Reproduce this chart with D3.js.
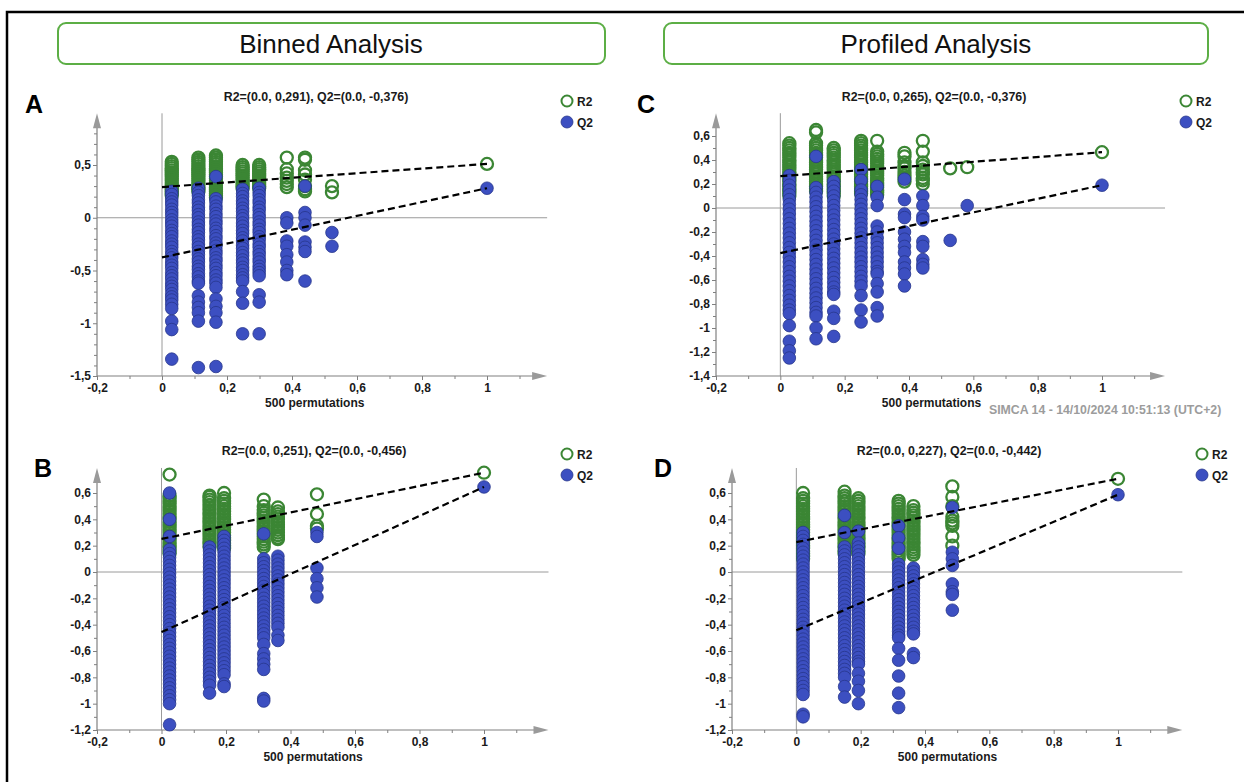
<!DOCTYPE html>
<html>
<head>
<meta charset="utf-8">
<script src="https://cdn.jsdelivr.net/npm/d3@7/dist/d3.min.js"></script>
<style>
  body { margin: 0; background: #fff; }
  svg text { font-family: "Liberation Sans", Arial, sans-serif; }
</style>
</head>
<body>
<svg id="chart" width="1244" height="782"></svg>
<script>
// ---- data ----
// x = correlation of permuted y with original y, one entry per column

// A: binned analysis, top
var panelA_x = [0.030, 0.112, 0.166, 0.248, 0.299, 0.384, 0.440, 0.523];
var panelA_r2 = [
  [0.53,0.51,0.49,0.47,0.45,0.43,0.41,0.39,0.37,0.35,0.33,0.31,0.29,0.27,0.25,0.23,0.21],
  [0.57,0.55,0.53,0.51,0.49,0.47,0.45,0.43,0.41,0.39,0.37,0.35,0.33,0.31,0.29,0.27,0.25],
  [0.59,0.57,0.55,0.53,0.51,0.49,0.47,0.45,0.43,0.41,0.39,0.37,0.35,0.33,0.31,0.29,0.27,0.25,0.23,0.21,0.19],
  [0.50,0.48,0.46,0.44,0.42,0.40,0.38,0.36,0.34,0.32,0.30,0.28],
  [0.50,0.48,0.46,0.44,0.42,0.40,0.38,0.36,0.34,0.32,0.30,0.28],
  [0.57,0.46,0.42,0.38,0.35,0.32,0.29],
  [0.57,0.55,0.45,0.41,0.36,0.30,0.27,0.25],
  [0.30,0.24]
];
var panelA_q2 = [
  [0.25,0.22,0.18,0.15,0.12,0.08,0.05,0.02,-0.02,-0.05,-0.08,-0.12,-0.15,-0.18,-0.22,-0.25,-0.28,-0.32,-0.35,-0.38,-0.42,-0.45,-0.48,-0.52,-0.55,-0.58,-0.62,-0.65,-0.68,-0.72,-0.75,-0.78,-0.82,-0.86,-0.98,-1.06,-1.34],
  [0.28,0.24,0.21,0.17,0.14,0.10,0.07,0.03,0.00,-0.04,-0.07,-0.11,-0.14,-0.18,-0.21,-0.25,-0.28,-0.32,-0.35,-0.39,-0.42,-0.46,-0.49,-0.53,-0.56,-0.60,-0.62,-0.74,-0.80,-0.85,-0.90,-0.98,-1.42],
  [0.39,0.18,0.15,0.11,0.08,0.04,0.01,-0.03,-0.06,-0.10,-0.13,-0.17,-0.20,-0.24,-0.27,-0.31,-0.34,-0.38,-0.41,-0.45,-0.48,-0.52,-0.55,-0.59,-0.62,-0.66,-0.77,-0.84,-0.90,-0.99,-1.41],
  [0.27,0.23,0.20,0.16,0.13,0.09,0.06,0.02,-0.01,-0.05,-0.08,-0.12,-0.15,-0.19,-0.22,-0.26,-0.29,-0.33,-0.36,-0.40,-0.43,-0.47,-0.50,-0.54,-0.57,-0.60,-0.70,-0.81,-1.10],
  [0.28,0.24,0.21,0.17,0.14,0.10,0.07,0.03,0.00,-0.04,-0.07,-0.11,-0.14,-0.18,-0.21,-0.25,-0.28,-0.32,-0.35,-0.39,-0.42,-0.46,-0.49,-0.52,-0.55,-0.73,-0.80,-1.10],
  [0.00,-0.05,-0.22,-0.27,-0.35,-0.42,-0.50,-0.54],
  [0.30,0.05,0.00,-0.07,-0.23,-0.28,-0.32,-0.60],
  [-0.14,-0.27]
];
var panelA_orig = [0.51, 0.28];        // R2, Q2 of the real model (x = 1)
var panelA_icpt = [0.291, -0.376];     // intercepts

// C: profiled analysis, top
var panelC_x = [0.028, 0.111, 0.166, 0.251, 0.301, 0.386, 0.443, 0.528, 0.581];
var panelC_r2 = [
  [0.54,0.52,0.50,0.48,0.46,0.44,0.42,0.40,0.38,0.36,0.34,0.32,0.30,0.28,0.26,0.24,0.22,0.20,0.18,0.16,0.14,0.12,0.10],
  [0.65,0.63,0.54,0.52,0.50,0.48,0.46,0.44,0.42,0.40,0.38,0.36,0.34,0.32,0.30,0.28,0.26,0.24,0.22,0.20,0.18,0.16,0.14],
  [0.50,0.48,0.46,0.44,0.42,0.40,0.38,0.36,0.34,0.32,0.30,0.28,0.26,0.24,0.22,0.20,0.18,0.16,0.14,0.12,0.10],
  [0.56,0.54,0.52,0.50,0.48,0.46,0.44,0.42,0.40,0.38,0.36,0.34,0.32,0.30,0.28,0.26,0.24,0.22,0.20,0.18,0.16,0.14,0.12],
  [0.56,0.47,0.45,0.43,0.41,0.39,0.37,0.35,0.33,0.31,0.29,0.27,0.25,0.23,0.21,0.19,0.17,0.15,0.13,0.11],
  [0.46,0.43,0.38,0.35,0.33,0.30,0.27,0.25,0.22],
  [0.56,0.47,0.38,0.35,0.32,0.30,0.28,0.25,0.23,0.20],
  [0.33],
  [0.34]
];
var panelC_q2 = [
  [0.27,0.23,0.19,0.15,0.11,0.07,0.03,-0.01,-0.05,-0.09,-0.13,-0.17,-0.21,-0.25,-0.29,-0.33,-0.37,-0.41,-0.45,-0.49,-0.53,-0.57,-0.61,-0.65,-0.69,-0.73,-0.77,-0.81,-0.85,-0.88,-0.98,-1.11,-1.19,-1.25],
  [0.43,0.17,0.13,0.09,0.05,0.01,-0.03,-0.07,-0.11,-0.15,-0.19,-0.23,-0.27,-0.31,-0.35,-0.39,-0.43,-0.47,-0.51,-0.55,-0.59,-0.63,-0.67,-0.71,-0.75,-0.79,-0.83,-0.87,-0.90,-1.00,-1.09],
  [0.22,0.18,0.14,0.10,0.06,0.02,-0.02,-0.06,-0.10,-0.14,-0.18,-0.22,-0.26,-0.30,-0.34,-0.38,-0.42,-0.46,-0.50,-0.54,-0.58,-0.62,-0.66,-0.70,-0.72,-0.86,-0.92,-1.07],
  [0.32,0.23,0.15,0.11,0.07,0.03,-0.01,-0.05,-0.09,-0.13,-0.17,-0.21,-0.25,-0.29,-0.33,-0.37,-0.41,-0.45,-0.49,-0.53,-0.57,-0.61,-0.65,-0.73,-0.85,-0.95],
  [0.18,0.09,0.02,-0.15,-0.20,-0.25,-0.29,-0.33,-0.37,-0.41,-0.45,-0.49,-0.53,-0.55,-0.63,-0.70,-0.83,-0.90],
  [0.24,0.07,-0.05,-0.08,-0.20,-0.26,-0.32,-0.37,-0.45,-0.50,-0.55,-0.65],
  [0.10,0.02,-0.07,-0.10,-0.28,-0.32,-0.43,-0.47,-0.50],
  [-0.27],
  [0.02]
];
var panelC_orig = [0.465, 0.19];
var panelC_icpt = [0.265, -0.376];

// B: binned analysis, bottom
var panelB_x = [0.025, 0.149, 0.194, 0.317, 0.361, 0.482];
var panelB_r2 = [
  [0.74,0.58,0.56,0.54,0.52,0.50,0.48,0.46,0.44,0.42,0.40,0.38,0.36,0.34,0.32,0.30,0.28,0.26,0.24,0.22,0.20,0.18,0.16,0.14],
  [0.58,0.57,0.55,0.53,0.51,0.49,0.47,0.45,0.43,0.41,0.39,0.37,0.35,0.33,0.31,0.29,0.27,0.25,0.23,0.21,0.19],
  [0.60,0.56,0.54,0.52,0.50,0.48,0.46,0.44,0.42,0.40,0.38,0.36,0.34,0.32,0.30,0.28,0.26,0.24,0.22,0.20,0.18],
  [0.55,0.50,0.47,0.45,0.43,0.41,0.39,0.37,0.35,0.33,0.31,0.29,0.27,0.25,0.23,0.21,0.19],
  [0.49,0.46,0.44,0.42,0.40,0.38,0.36,0.34,0.32,0.30,0.28,0.26,0.25],
  [0.59,0.44,0.35,0.33]
];
var panelB_q2 = [
  [0.60,0.40,0.27,0.17,0.14,0.11,0.08,0.05,0.02,-0.01,-0.04,-0.07,-0.10,-0.13,-0.16,-0.19,-0.22,-0.25,-0.28,-0.31,-0.34,-0.37,-0.40,-0.43,-0.46,-0.49,-0.52,-0.55,-0.58,-0.61,-0.64,-0.67,-0.70,-0.73,-0.76,-0.79,-0.82,-0.85,-0.88,-0.91,-0.94,-0.97,-1.00,-1.16],
  [0.19,0.16,0.13,0.10,0.07,0.04,0.01,-0.02,-0.05,-0.08,-0.11,-0.14,-0.17,-0.20,-0.23,-0.26,-0.29,-0.32,-0.35,-0.38,-0.41,-0.44,-0.47,-0.50,-0.53,-0.56,-0.59,-0.62,-0.65,-0.68,-0.71,-0.74,-0.77,-0.80,-0.83,-0.86,-0.92],
  [0.27,0.24,0.21,0.18,0.15,0.12,0.09,0.06,0.03,0.00,-0.03,-0.06,-0.09,-0.12,-0.15,-0.18,-0.21,-0.24,-0.27,-0.30,-0.33,-0.36,-0.39,-0.42,-0.45,-0.48,-0.51,-0.54,-0.57,-0.60,-0.63,-0.66,-0.69,-0.72,-0.75,-0.78,-0.85,-0.87],
  [0.29,0.10,0.07,0.04,0.01,-0.02,-0.05,-0.08,-0.11,-0.14,-0.17,-0.20,-0.23,-0.26,-0.29,-0.32,-0.35,-0.38,-0.41,-0.44,-0.47,-0.50,-0.55,-0.62,-0.66,-0.70,-0.74,-0.96,-0.98],
  [0.12,0.09,0.06,0.03,0.00,-0.03,-0.06,-0.09,-0.12,-0.15,-0.18,-0.21,-0.24,-0.27,-0.30,-0.33,-0.36,-0.39,-0.42,-0.48,-0.52],
  [0.30,0.27,0.03,-0.05,-0.12,-0.19]
];
var panelB_orig = [0.754, 0.646];
var panelB_icpt = [0.251, -0.456];

// D: profiled analysis, bottom
var panelD_x = [0.021, 0.150, 0.193, 0.318, 0.364, 0.485];
var panelD_r2 = [
  [0.60,0.56,0.54,0.52,0.50,0.48,0.46,0.44,0.42,0.40,0.38,0.36,0.34,0.32,0.30,0.28,0.26,0.24,0.22,0.20,0.18,0.16,0.14,0.12,0.10],
  [0.61,0.58,0.56,0.54,0.52,0.50,0.48,0.46,0.44,0.42,0.40,0.38,0.36,0.34,0.32,0.30,0.28,0.26,0.24,0.22,0.20,0.18,0.16,0.14],
  [0.56,0.54,0.52,0.50,0.48,0.46,0.44,0.42,0.40,0.38,0.36,0.34,0.32,0.30,0.28,0.26,0.24,0.22,0.20,0.18,0.16,0.14],
  [0.54,0.52,0.50,0.48,0.46,0.44,0.42,0.40,0.38,0.36,0.34,0.32,0.30,0.28,0.26,0.24,0.22,0.20,0.18,0.16,0.14,0.12,0.10],
  [0.50,0.47,0.45,0.43,0.41,0.39,0.37,0.35,0.33,0.31,0.29,0.27,0.25,0.23,0.21,0.19,0.17,0.15,0.13],
  [0.65,0.57,0.50,0.42,0.39,0.37,0.35,0.27,0.20]
];
var panelD_q2 = [
  [0.30,0.27,0.24,0.21,0.18,0.15,0.12,0.09,0.06,0.03,0.00,-0.03,-0.06,-0.09,-0.12,-0.15,-0.18,-0.21,-0.24,-0.27,-0.30,-0.33,-0.36,-0.39,-0.42,-0.45,-0.48,-0.51,-0.54,-0.57,-0.60,-0.63,-0.66,-0.69,-0.72,-0.75,-0.78,-0.81,-0.84,-0.87,-0.90,-0.93,-1.08,-1.10],
  [0.43,0.30,0.19,0.16,0.13,0.10,0.07,0.04,0.01,-0.02,-0.05,-0.08,-0.11,-0.14,-0.17,-0.20,-0.23,-0.26,-0.29,-0.32,-0.35,-0.38,-0.41,-0.44,-0.47,-0.50,-0.53,-0.56,-0.59,-0.62,-0.65,-0.68,-0.71,-0.74,-0.77,-0.80,-0.87,-0.95],
  [0.31,0.22,0.19,0.16,0.13,0.10,0.07,0.04,0.01,-0.02,-0.05,-0.08,-0.11,-0.14,-0.17,-0.20,-0.23,-0.26,-0.29,-0.32,-0.35,-0.38,-0.41,-0.44,-0.47,-0.50,-0.53,-0.56,-0.59,-0.62,-0.65,-0.68,-0.70,-0.77,-0.83,-0.90,-1.00],
  [0.35,0.26,0.18,0.06,0.03,0.00,-0.03,-0.06,-0.09,-0.12,-0.15,-0.18,-0.21,-0.24,-0.27,-0.30,-0.33,-0.36,-0.39,-0.42,-0.45,-0.48,-0.50,-0.58,-0.67,-0.79,-0.92,-1.03],
  [0.03,0.00,-0.03,-0.06,-0.09,-0.12,-0.15,-0.18,-0.21,-0.24,-0.27,-0.30,-0.33,-0.36,-0.39,-0.42,-0.45,-0.47,-0.62,-0.65],
  [0.49,0.15,0.10,0.05,-0.09,-0.15,-0.17,-0.29]
];
var panelD_orig = [0.708, 0.587];
var panelD_icpt = [0.227, -0.442];

var sectionTitles = ["Binned Analysis", "Profiled Analysis"];
var xLabel = "500 permutations";
var footnote = "SIMCA 14 - 14/10/2024 10:51:13 (UTC+2)";

// ---- drawing ----
var green = "#3b8634", blue = "#3c4fc1", blueEdge = "#27368c", axisGrey = "#808080";

var svg = d3.select("#chart");
svg.append("rect").attr("width", 1244).attr("height", 782).attr("fill", "#fff");

// outer frame (top + left edges visible in the figure)
svg.append("path")
    .attr("d", "M7,782 V12 H1244")
    .attr("fill", "none").attr("stroke", "#000").attr("stroke-width", 2.5);

// section header boxes
var boxes = [{x: 58, w: 547, cx: 331}, {x: 664, w: 544, cx: 936}];
boxes.forEach(function(b, i) {
    svg.append("rect")
        .attr("x", b.x).attr("y", 23).attr("width", b.w).attr("height", 41)
        .attr("rx", 8).attr("fill", "#fff")
        .attr("stroke", "#5cae45").attr("stroke-width", 2);
    svg.append("text")
        .attr("x", b.cx).attr("y", 53)
        .attr("text-anchor", "middle")
        .style("font-size", "26px").attr("fill", "#111")
        .text(sectionTitles[i]);
});

var fmt = function(d) {
    return String(Math.round(d * 10) / 10).replace(".", ",");
};

function drawPanel(p) {
    var g = svg.append("g");
    var x = d3.scaleLinear().domain([-0.2, 1]).range(p.xRange);
    var y = d3.scaleLinear().domain([p.yMin, p.yMax]).range(p.yRange);
    var yBot = y(p.yMin), xLeft = x(-0.2);

    // zero lines
    g.append("line").attr("x1", x(0)).attr("x2", x(0))
        .attr("y1", y(p.yArrow)).attr("y2", yBot)
        .attr("stroke", "#9a9a9a").attr("stroke-width", 1);
    g.append("line").attr("x1", xLeft).attr("x2", x(p.xArrow))
        .attr("y1", y(0)).attr("y2", y(0))
        .attr("stroke", "#9a9a9a").attr("stroke-width", 1);

    // axes: major + minor ticks
    var xMajor = [-0.2, 0, 0.2, 0.4, 0.6, 0.8, 1];
    var xMinor = [-0.1, 0.1, 0.3, 0.5, 0.7, 0.9, 1.1];
    var yMajor = d3.range(p.yMin, p.yMax + 0.001, p.yStep).map(function(d) { return Math.round(d * 10) / 10; });
    var yMinor = d3.range(p.yMin, 0.85, 0.1).map(function(d) { return Math.round(d * 10) / 10; })
        .filter(function(d) { return yMajor.indexOf(d) === -1 && d <= p.yArrow - 0.1; });

    var xa = g.append("g").attr("transform", "translate(0," + yBot + ")")
        .call(d3.axisBottom(x).tickValues(xMajor).tickSize(4).tickPadding(3).tickFormat(fmt));
    var xm = g.append("g").attr("transform", "translate(0," + yBot + ")")
        .call(d3.axisBottom(x).tickValues(xMinor).tickSize(3).tickFormat(""));
    var ya = g.append("g").attr("transform", "translate(" + xLeft + ",0)")
        .call(d3.axisLeft(y).tickValues(yMajor).tickSize(4).tickPadding(2).tickFormat(fmt));
    var ym = g.append("g").attr("transform", "translate(" + xLeft + ",0)")
        .call(d3.axisLeft(y).tickValues(yMinor).tickSize(3).tickFormat(""));
    [xa, xm, ya, ym].forEach(function(a) {
        a.select(".domain").remove();
        a.selectAll("line").attr("stroke", axisGrey);
        a.selectAll("text")
            .attr("fill", "#1a1a1a")
            .style("font-size", "12px").style("font-weight", "bold")
            .style("font-family", "'Liberation Sans', Arial, sans-serif");
    });

    // axis lines with arrow heads
    g.append("line").attr("x1", xLeft).attr("x2", xLeft)
        .attr("y1", yBot).attr("y2", y(p.yArrow) + 10)
        .attr("stroke", axisGrey).attr("stroke-width", 1.2);
    g.append("path")
        .attr("d", "M" + (xLeft - 4) + "," + (y(p.yArrow) + 15) + " L" + xLeft + "," + y(p.yArrow) +
                   " L" + (xLeft + 4) + "," + (y(p.yArrow) + 15) + " Z")
        .attr("fill", "#9a9a9a");
    g.append("line").attr("x1", xLeft).attr("x2", x(p.xArrow) - 10)
        .attr("y1", yBot).attr("y2", yBot)
        .attr("stroke", axisGrey).attr("stroke-width", 1.2);
    g.append("path")
        .attr("d", "M" + (x(p.xArrow) - 15) + "," + (yBot - 4) + " L" + x(p.xArrow) + "," + yBot +
                   " L" + (x(p.xArrow) - 15) + "," + (yBot + 4) + " Z")
        .attr("fill", "#9a9a9a");

    // flatten columns into points
    var r2pts = [], q2pts = [];
    p.xs.forEach(function(xv, i) {
        p.r2[i].forEach(function(v) { r2pts.push({x: xv, v: v}); });
        p.q2[i].forEach(function(v) { q2pts.push({x: xv, v: v}); });
    });
    r2pts.push({x: 1, v: p.orig[0]});
    q2pts.push({x: 1, v: p.orig[1]});

    g.append("g").selectAll("circle").data(r2pts).enter().append("circle")
        .attr("cx", function(d) { return x(d.x); })
        .attr("cy", function(d) { return y(d.v); })
        .attr("r", 6)
        .attr("fill", "none").attr("stroke", green).attr("stroke-width", 2.3);
    g.append("g").selectAll("circle").data(q2pts).enter().append("circle")
        .attr("cx", function(d) { return x(d.x); })
        .attr("cy", function(d) { return y(d.v); })
        .attr("r", 6.3)
        .attr("fill", blue).attr("stroke", blueEdge).attr("stroke-width", 0.8);

    // regression lines from intercept to original model
    [0, 1].forEach(function(k) {
        g.append("line")
            .attr("x1", x(0)).attr("y1", y(p.icpt[k]))
            .attr("x2", x(1)).attr("y2", y(p.orig[k]))
            .attr("stroke", "#000").attr("stroke-width", 2.2)
            .attr("stroke-dasharray", "7,4");
    });

    // title
    g.append("text")
        .attr("x", p.titleX).attr("y", p.titleY)
        .attr("text-anchor", "middle")
        .style("font-size", "12.4px").style("font-weight", "bold").attr("fill", "#1a1a1a")
        .text("R2=(0.0, " + fmt3(p.icpt[0]) + "), Q2=(0.0, " + fmt3(p.icpt[1]) + ")");

    // x label
    g.append("text")
        .attr("x", x(0.47)).attr("y", yBot + 31)
        .attr("text-anchor", "middle")
        .style("font-size", "12px").style("font-weight", "bold").attr("fill", "#1a1a1a")
        .text(xLabel);

    // panel letter
    g.append("text")
        .attr("x", p.letterX).attr("y", p.letterY)
        .style("font-size", "25px").style("font-weight", "bold").attr("fill", "#000")
        .text(p.letter);

    // legend
    var lg = g.append("g").attr("transform", "translate(" + p.legX + "," + p.legY + ")");
    lg.append("circle").attr("cx", 0).attr("cy", 0).attr("r", 5.5)
        .attr("fill", "#fff").attr("stroke", green).attr("stroke-width", 2);
    lg.append("circle").attr("cx", 0).attr("cy", 21).attr("r", 6)
        .attr("fill", blue).attr("stroke", blueEdge).attr("stroke-width", 0.8);
    lg.append("text").attr("x", 10).attr("y", 4.5)
        .style("font-size", "12px").style("font-weight", "bold").attr("fill", "#1a1a1a").text("R2");
    lg.append("text").attr("x", 10).attr("y", 25.5)
        .style("font-size", "12px").style("font-weight", "bold").attr("fill", "#1a1a1a").text("Q2");
}

function fmt3(v) {
    return v.toFixed(3).replace(".", ",");
}

drawPanel({letter: "A", xs: panelA_x, r2: panelA_r2, q2: panelA_q2, orig: panelA_orig, icpt: panelA_icpt,
    xRange: [97, 487], yMin: -1.5, yMax: 0.5, yRange: [376, 165], yStep: 0.5, yArrow: 0.99, xArrow: 1.185,
    titleX: 316, titleY: 101, letterX: 25, letterY: 113, legX: 567, legY: 101});
drawPanel({letter: "C", xs: panelC_x, r2: panelC_r2, q2: panelC_q2, orig: panelC_orig, icpt: panelC_icpt,
    xRange: [716, 1102], yMin: -1.4, yMax: 0.6, yRange: [376, 136], yStep: 0.2, yArrow: 0.79, xArrow: 1.196,
    titleX: 934, titleY: 101, letterX: 637, letterY: 113, legX: 1186, legY: 101});
drawPanel({letter: "B", xs: panelB_x, r2: panelB_r2, q2: panelB_q2, orig: panelB_orig, icpt: panelB_icpt,
    xRange: [97, 484], yMin: -1.2, yMax: 0.6, yRange: [730, 493], yStep: 0.2, yArrow: 0.79, xArrow: 1.2,
    titleX: 314, titleY: 455, letterX: 34, letterY: 477, legX: 567, legY: 454});
drawPanel({letter: "D", xs: panelD_x, r2: panelD_r2, q2: panelD_q2, orig: panelD_orig, icpt: panelD_icpt,
    xRange: [732, 1118], yMin: -1.2, yMax: 0.6, yRange: [730, 493], yStep: 0.2, yArrow: 0.79, xArrow: 1.2,
    titleX: 949, titleY: 455, letterX: 654, letterY: 477, legX: 1202, legY: 454});

// software stamp under panel C
svg.append("text")
    .attr("x", 989).attr("y", 414)
    .style("font-size", "12.3px").style("font-weight", "bold").attr("fill", "#9c9c9c")
    .text(footnote);
</script>
</body>
</html>
